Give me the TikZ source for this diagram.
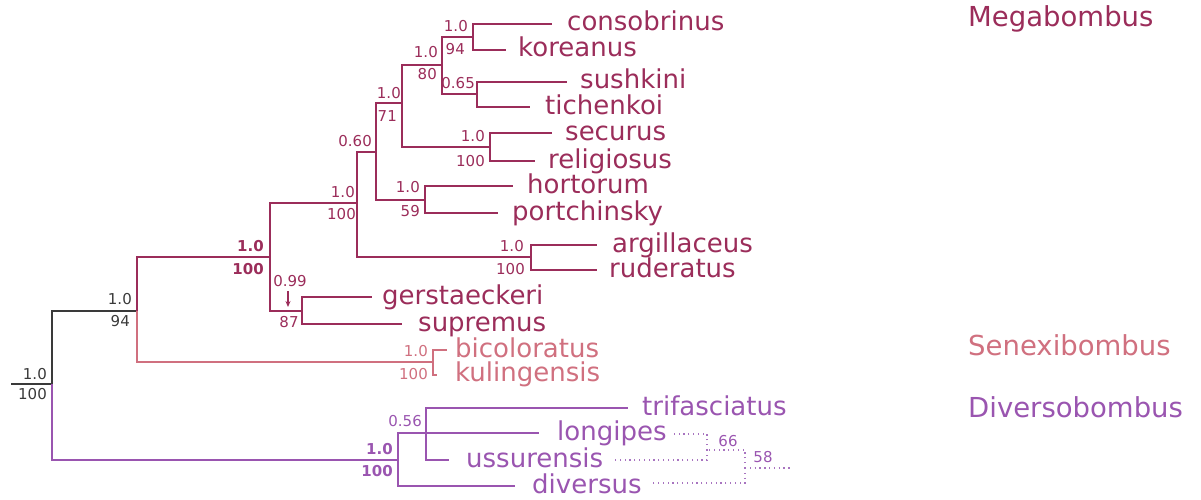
\documentclass[tikz,border=0pt]{standalone}
\usepackage{fontspec}
\setmainfont{DejaVu Sans}
\usetikzlibrary{arrows.meta}
\definecolor{mega}{HTML}{9B2D5A}
\definecolor{senex}{HTML}{D0707F}
\definecolor{diver}{HTML}{9A55B0}
\definecolor{diverdot}{HTML}{A874C0}
\definecolor{rootc}{HTML}{3A3A3A}
\begin{document}
\begin{tikzpicture}[x=1pt,y=-1pt,
  br/.style={line width=1.8pt},
  dotline/.style={diverdot, line width=1.3pt, dash pattern=on 1.3pt off 3.5pt},
  taxon/.style={font=\fontsize{26}{30}\selectfont, anchor=base west, inner sep=0pt, yshift=-7pt},
  clade/.style={font=\fontsize{27.5}{32}\selectfont, anchor=base west, inner sep=0pt},
  sup/.style={font=\fontsize{15}{17}\selectfont, inner sep=0pt},
  supa/.style={sup, anchor=south east},
  supb/.style={sup, anchor=north east},
  bold/.style={font=\fontsize{15}{17}\selectfont\bfseries}
]
\useasboundingbox (0,0) rectangle (1201,500);

% ---------- internal nodes ----------
\coordinate (rs) at (11,384);
\coordinate (root) at (52,384);
\coordinate (n12) at (137,311);
\coordinate (n11) at (270,257);
\coordinate (n8) at (357,203);
\coordinate (n7) at (376,152);
\coordinate (n5) at (402,103);
\coordinate (n3) at (442,65);
\coordinate (n1) at (473,37);
\coordinate (n2) at (477,94);
\coordinate (n4) at (490,147);
\coordinate (n6) at (425,200);
\coordinate (n9) at (531,257);
\coordinate (n10) at (302,311);
\coordinate (sx) at (433,362);
\coordinate (n14) at (398,460);
\coordinate (n13) at (426,433);

% ---------- leaf ends ----------
\coordinate (lcons) at (552,24);
\coordinate (lkor) at (506,50);
\coordinate (lsus) at (567,82);
\coordinate (ltic) at (530,107);
\coordinate (lsec) at (552,133);
\coordinate (lrel) at (535,161);
\coordinate (lhor) at (513,186);
\coordinate (lpor) at (498,213);
\coordinate (larg) at (597,245);
\coordinate (lrud) at (597,270);
\coordinate (lger) at (372,297);
\coordinate (lsup) at (402,324);
\coordinate (lbic) at (447,350);
\coordinate (lkul) at (437,375);
\coordinate (ltri) at (628,408);
\coordinate (llon) at (539,433);
\coordinate (luss) at (449,460);
\coordinate (ldiv) at (515,486);

% ---------- branches ----------
\draw[br, rootc] (rs) -- (root);
\draw[br, rootc] (root) |- (n12);
\draw[br, diver] (root) |- (n14);
\draw[br, mega] (n12) |- (n11);
\draw[br, senex] (n12) |- (sx);
\draw[br, mega] (n11) |- (n8);
\draw[br, mega] (n11) |- (n10);
\draw[br, mega] (n8) |- (n7);
\draw[br, mega] (n8) |- (n9);
\draw[br, mega] (n7) |- (n5);
\draw[br, mega] (n7) |- (n6);
\draw[br, mega] (n5) |- (n3);
\draw[br, mega] (n5) |- (n4);
\draw[br, mega] (n3) |- (n1);
\draw[br, mega] (n3) |- (n2);
\draw[br, mega] (n1) |- (lcons);
\draw[br, mega] (n1) |- (lkor);
\draw[br, mega] (n2) |- (lsus);
\draw[br, mega] (n2) |- (ltic);
\draw[br, mega] (n4) |- (lsec);
\draw[br, mega] (n4) |- (lrel);
\draw[br, mega] (n6) |- (lhor);
\draw[br, mega] (n6) |- (lpor);
\draw[br, mega] (n9) |- (larg);
\draw[br, mega] (n9) |- (lrud);
\draw[br, mega] (n10) |- (lger);
\draw[br, mega] (n10) |- (lsup);
\draw[br, senex] (sx) |- (lbic);
\draw[br, senex] (sx) |- (lkul);
\draw[br, diver] (n14) |- (n13);
\draw[br, diver] (n14) |- (ldiv);
\draw[br, diver] (n13) |- (ltri);
\draw[br, diver] (n13) |- (llon);
\draw[br, diver] (n13) |- (luss);

% ---------- dotted tree ----------
\coordinate (d1) at (707,450);
\coordinate (d2) at (745,468);
\coordinate (dl) at (673,434);
\coordinate (du) at (615,460);
\coordinate (dd) at (650,483);
\coordinate (dr) at (790,468);
\draw[dotline] (d1) |- (dl);
\draw[dotline] (d1) |- (du);
\draw[dotline] (d2) |- (d1);
\draw[dotline] (d2) |- (dd);
\draw[dotline] (d2) -- (dr);
\node[sup, diver] (s66) at (728,441) {66};
\node[sup, diver] (s58) at (763,457) {58};

% ---------- taxa ----------
\node[taxon, mega] (tcons) at (567,24) {consobrinus};
\node[taxon, mega] (tkor) at (518,50) {koreanus};
\node[taxon, mega] (tsus) at (580,82) {sushkini};
\node[taxon, mega] (ttic) at (545,107) {tichenkoi};
\node[taxon, mega] (tsec) at (565,133) {securus};
\node[taxon, mega] (trel) at (548,161) {religiosus};
\node[taxon, mega] (thor) at (527,186) {hortorum};
\node[taxon, mega] (tpor) at (512,213) {portchinsky};
\node[taxon, mega] (targ) at (612,245) {argillaceus};
\node[taxon, mega] (trud) at (609,270) {ruderatus};
\node[taxon, mega] (tger) at (382,297) {gerstaeckeri};
\node[taxon, mega] (tsup) at (418,324) {supremus};
\node[taxon, senex] (tbic) at (455,350) {bicoloratus};
\node[taxon, senex] (tkul) at (455,374) {kulingensis};
\node[taxon, diver] (ttri) at (642,408) {trifasciatus};
\node[taxon, diver] (tlon) at (557,433) {longipes};
\node[taxon, diver] (tuss) at (466,460) {ussurensis};
\node[taxon, diver] (tdiv) at (532,486) {diversus};

% ---------- clade names ----------
\node[clade, mega] (cmega) at (968,27) {Megabombus};
\node[clade, senex] (csenex) at (968,355) {Senexibombus};
\node[clade, diver] (cdiver) at (968,417) {Diversobombus};

% ---------- support values ----------
\node[supa, rootc] (r1) at (47,380) {1.0};
\node[supb, rootc] (r2) at (47,388) {100};
\node[supa, rootc] (a12) at (132,305) {1.0};
\node[supb, rootc] (b12) at (130,315) {94};
\node[supa, mega, bold] (a11) at (264,252) {1.0};
\node[supb, mega, bold] (b11) at (264,263) {100};
\node[supa, mega] (a8) at (355,198) {1.0};
\node[supb, mega] (b8) at (356,208) {100};
\node[supa, mega] (a7) at (372,147) {0.60};
\node[supa, mega] (a5) at (401,99) {1.0};
\node[supb, mega] (b5) at (397,110) {71};
\node[supa, mega] (a3) at (438,58) {1.0};
\node[supb, mega] (b3) at (437,68) {80};
\node[supa, mega] (a1) at (468,32) {1.0};
\node[supb, mega] (b1) at (465,43) {94};
\node[supa, mega] (a2) at (475,89) {0.65};
\node[supa, mega] (a4) at (485,142) {1.0};
\node[supb, mega] (b4) at (485,155) {100};
\node[supa, mega] (a6) at (420,193) {1.0};
\node[supb, mega] (b6) at (420,205) {59};
\node[supa, mega] (a9) at (524,252) {1.0};
\node[supb, mega] (b9) at (525,263) {100};
\node[sup, mega, anchor=south] (a10) at (290,287) {0.99};
\node[sup, mega, anchor=north] (b10) at (289,316) {87};
\coordinate (ar1) at (288,291);
\coordinate (ar2) at (288,307);
\draw[mega, line width=1.2pt, -{Stealth[length=6pt,width=5pt]}] (ar1) -- (ar2);
\node[supa, senex] (asx) at (428,357) {1.0};
\node[supb, senex] (bsx) at (428,368) {100};
\node[supa, diver] (a13) at (422,427) {0.56};
\node[supa, diver, bold] (a14) at (393,455) {1.0};
\node[supb, diver, bold] (b14) at (393,465) {100};
\end{tikzpicture}
\end{document}
